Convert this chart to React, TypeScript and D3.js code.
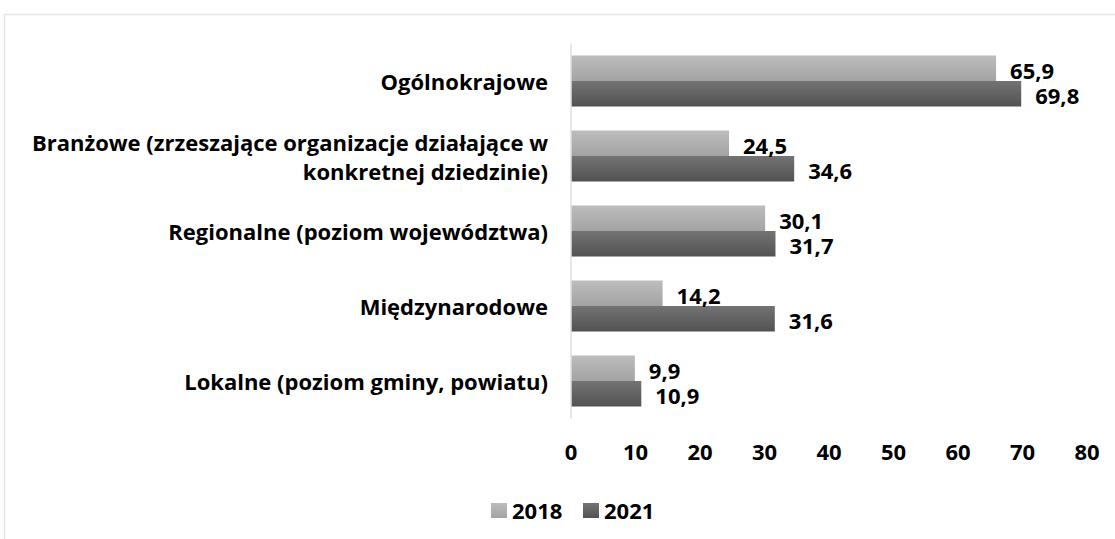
import React from "react";
import * as d3 from "d3";

const categories = [
  "Ogólnokrajowe",
  "Branżowe (zrzeszające organizacje działające w konkretnej dziedzinie)",
  "Regionalne (poziom województwa)",
  "Międzynarodowe",
  "Lokalne (poziom gminy, powiatu)",
];
const categoryLines = [
  ["Ogólnokrajowe"],
  ["Branżowe (zrzeszające organizacje działające w", "konkretnej dziedzinie)"],
  ["Regionalne (poziom województwa)"],
  ["Międzynarodowe"],
  ["Lokalne (poziom gminy, powiatu)"],
];
const series = ["2018", "2021"];
const values2018 = [65.9, 24.5, 30.1, 14.2, 9.9];
const values2021 = [69.8, 34.6, 31.7, 31.6, 10.9];
const xTicks = [0, 10, 20, 30, 40, 50, 60, 70, 80];

const FONT = "'Open Sans', sans-serif";

export default function App() {
  const W = 1115;
  const H = 539;
  const x0 = 571;
  const x1 = 1087;
  const yTop = 43.5;
  const yBot = 418.5;

  const x = d3.scaleLinear().domain([0, 80]).range([x0, x1]);
  const y = d3.scaleBand<string>().domain(categories).range([yTop, yBot]).paddingInner(0.32).paddingOuter(0.16);
  const sub = d3.scaleBand<string>().domain(series).range([0, y.bandwidth()]);
  const data = [values2018, values2021];
  const fills = ["url(#g2018)", "url(#g2021)"];
  const fmt = (v: number) => d3.format(".1f")(v).replace(".", ",");

  return (
    <div style={{ position: "fixed", left: 0, top: 0 }}>
      <svg width={W} height={H} style={{ display: "block", background: "#fff" }}>
        <defs>
          <linearGradient id="g2018" x1="0" y1="0" x2="0" y2="1">
            <stop offset="0" stopColor="#bdbdbd" />
            <stop offset="1" stopColor="#a3a3a3" />
          </linearGradient>
          <linearGradient id="g2021" x1="0" y1="0" x2="0" y2="1">
            <stop offset="0" stopColor="#737373" />
            <stop offset="1" stopColor="#525252" />
          </linearGradient>
        </defs>
        <rect x={4.5} y={14.5} width={W + 10} height={H + 10} fill="none" stroke="#e3e6ea" strokeWidth={1.5} />
        {categories.map((c, i) => {
          const lines = categoryLines[i];
          const cy = y(c)! + y.bandwidth() / 2;
          const lh = 29;
          return (
            <text key={c} x={548} textAnchor="end" fontFamily={FONT} fontWeight={700} fontSize={22} fill="#000">
              {lines.map((l, j) => (
                <tspan key={j} x={548} y={cy + (j - (lines.length - 1) / 2) * lh} dominantBaseline="central">
                  {l}
                </tspan>
              ))}
            </text>
          );
        })}
        {series.map((s, si) =>
          categories.map((c, i) => {
            const v = data[si][i];
            const by = y(c)! + sub(s)!;
            return (
              <g key={s + c}>
                <rect x={x(0)} y={by} width={x(v) - x(0)} height={sub.bandwidth()} fill={fills[si]} />
              </g>
            );
          })
        )}
        <line x1={x(0)} x2={x(0)} y1={yTop} y2={yBot} stroke="#dcdfe4" strokeWidth={1.5} />
        {series.map((s, si) =>
          categories.map((c, i) => {
            const v = data[si][i];
            const by = y(c)! + sub(s)!;
            return (
              <text
                key={"l" + s + c}
                x={x(v) + 14}
                y={by + sub.bandwidth() / 2 + 1.5}
                dominantBaseline="central"
                fontFamily={FONT}
                fontWeight={700}
                fontSize={22}
                fill="#000"
              >
                {fmt(v)}
              </text>
            );
          })
        )}
        {xTicks.map((t) => (
          <text key={t} x={x(t)} y={451} textAnchor="middle" dominantBaseline="central" fontFamily={FONT} fontWeight={700} fontSize={22} fill="#000">
            {t}
          </text>
        ))}
        {series.map((s, si) => {
          const lx = 491 + si * 92;
          return (
            <g key={"lg" + s}>
              <rect x={lx} y={503} width={16} height={15} fill={fills[si]} />
              <text x={lx + 21} y={509.5} dominantBaseline="central" fontFamily={FONT} fontWeight={700} fontSize={22} fill="#000">
                {s}
              </text>
            </g>
          );
        })}
      </svg>
    </div>
  );
}
